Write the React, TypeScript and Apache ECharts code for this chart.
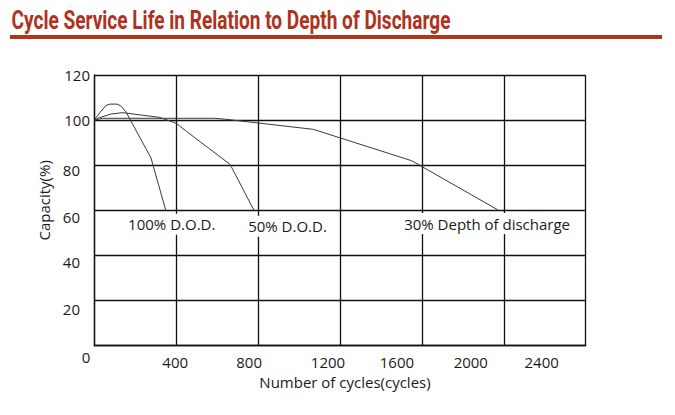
import React, { useEffect, useRef } from "react";
import * as echarts from "echarts";

// ---------- data ----------
const TITLE = "Cycle Service Life in Relation to Depth of Discharge";
const X_NAME = "Number of cycles(cycles)";
const Y_NAME = "Capacity(%)";

const xTicks = [0, 400, 800, 1200, 1600, 2000, 2400];
const yTicks = [0, 20, 40, 60, 80, 100, 120];

const seriesNames = ["100% D.O.D.", "50% D.O.D.", "30% Depth of discharge"];

const cycles100 = [0, 28, 57, 77, 111, 130, 155, 277, 349];
const capacity100 = [100, 103.4, 106.5, 107.1, 107.1, 106.3, 103.6, 83.2, 60];

const cycles50 = [0, 25, 52, 80, 140, 320, 400, 450, 663, 780];
const capacity50 = [100, 101.1, 101.8, 102.7, 103.3, 101.2, 98.6, 95, 80.4, 60];

const cycles30 = [0, 40, 590, 640, 1070, 1550, 1975];
const capacity30 = [100, 100.8, 100.8, 100.4, 95.9, 82, 60];

// ---------- styles ----------
const FONT = "'Open Sans', 'Noto Sans', sans-serif";
const FS = 15;
const TEXT_COLOR = "#1a1a1a";
const GRID_COLOR = "#111";
const LINE_COLOR = "#3a3a3a";
const TITLE_COLOR = "#b0311d";
const BAR_COLOR = "#b2351c";

// label nudges (px): [shift left, shift down]
const xLabelNudge: Record<number, [number, number]> = {
  0: [8.3, 0], 400: [1, 4.6], 800: [9, 4.6], 1200: [12, 4.6],
  1600: [25, 4.6], 2000: [33, 4.6], 2400: [44, 4.6],
};
const yLabelNudge: Record<number, [number, number]> = {
  20: [10, 8.3], 40: [10, 7], 60: [10, 6.3], 80: [10, 4.7], 100: [0, 0], 120: [0, 0],
};
// annotation offsets relative to each curve's end point
const annotOffset: [number, number][] = [[6, 13.8], [33.5, 15.8], [-11.6, 13.2]];

function pair(xs: number[], ys: number[]) {
  return xs.map((x, i) => [x, ys[i]]);
}

export default function App() {
  const ref = useRef<HTMLDivElement>(null);
  useEffect(() => {
    if (!ref.current) return;
    const chart = echarts.init(ref.current, null, { renderer: "svg" });

    // measure the title to compress it like the condensed original
    const cv = document.createElement("canvas").getContext("2d")!;
    cv.font = "bold 25px Roboto";
    const w = cv.measureText(TITLE).width || 600;
    const titleScale = 439 / w;

    const xRich: Record<string, any> = {};
    xTicks.forEach((v) => {
      const [l, d] = xLabelNudge[v] || [0, 0];
      xRich["x" + v] = {
        fontSize: FS, fontFamily: FONT, color: TEXT_COLOR,
        padding: [d, 2 * l, 0, 0],
      };
    });
    const yRich: Record<string, any> = {};
    yTicks.forEach((v) => {
      const [l, d] = yLabelNudge[v] || [0, 0];
      yRich["y" + v] = {
        fontSize: FS, fontFamily: FONT, color: TEXT_COLOR,
        padding: [2 * d, l, 0, 0],
      };
    });

    const datasets = [pair(cycles100, capacity100), pair(cycles50, capacity50), pair(cycles30, capacity30)];

    chart.setOption({
      animation: false,
      backgroundColor: "#fff",
      graphic: [
        {
          type: "text", x: 11.5, y: 19.6, scaleX: titleScale,
          style: {
            text: TITLE, fill: TITLE_COLOR, font: "bold 25px Roboto",
            align: "left", verticalAlign: "middle",
          },
        },
        { type: "rect", shape: { x: 10, y: 35, width: 652, height: 4 }, style: { fill: BAR_COLOR } },
      ],
      grid: { left: 94.3, right: 89.3, top: 75, bottom: 69.3, containLabel: false },
      xAxis: {
        type: "value", min: 0, max: 2400, interval: 400,
        name: X_NAME, nameLocation: "middle", nameGap: 29,
        nameTextStyle: { fontSize: FS, fontFamily: FONT, color: TEXT_COLOR, padding: [0, 0, 0, 10] },
        axisLine: { show: true, lineStyle: { color: GRID_COLOR, width: 1.3 } },
        axisTick: { show: false },
        splitLine: { show: true, lineStyle: { color: GRID_COLOR, width: 1.3 } },
        axisLabel: {
          margin: 4.2,
          formatter: (v: number) => `{x${v}|${v}}`,
          rich: xRich,
        },
      },
      yAxis: {
        type: "value", min: 0, max: 120, interval: 20,
        name: Y_NAME, nameLocation: "middle", nameGap: 40,
        nameTextStyle: { fontSize: FS, fontFamily: FONT, color: TEXT_COLOR, padding: [0, 0, 0, 20] },
        axisLine: { show: true, lineStyle: { color: GRID_COLOR, width: 1.3 } },
        axisTick: { show: false },
        splitLine: { show: true, lineStyle: { color: GRID_COLOR, width: 1.3 } },
        axisLabel: {
          margin: 4.3,
          formatter: (v: number) => (v === 0 ? "" : `{y${v}|${v}}`),
          rich: yRich,
        },
      },
      series: datasets.map((data, i) => ({
        type: "line",
        name: seriesNames[i],
        data,
        symbol: "none",
        smooth: false,
        lineStyle: { color: LINE_COLOR, width: 1 },
        markPoint: {
          symbol: "circle",
          symbolSize: 1,
          itemStyle: { color: "rgba(0,0,0,0)" },
          label: {
            show: true, position: "inside", formatter: seriesNames[i],
            offset: annotOffset[i], fontSize: FS, fontFamily: FONT, color: TEXT_COLOR,
            backgroundColor: "#fff", padding: [3, 2],
          },
          data: [{ coord: data[data.length - 1] }],
        },
      })),
    });
    return () => chart.dispose();
  }, []);
  return (
    <div
      ref={ref}
      style={{ position: "fixed", left: 0, top: 0, width: 675, height: 415, background: "#fff" }}
    />
  );
}
